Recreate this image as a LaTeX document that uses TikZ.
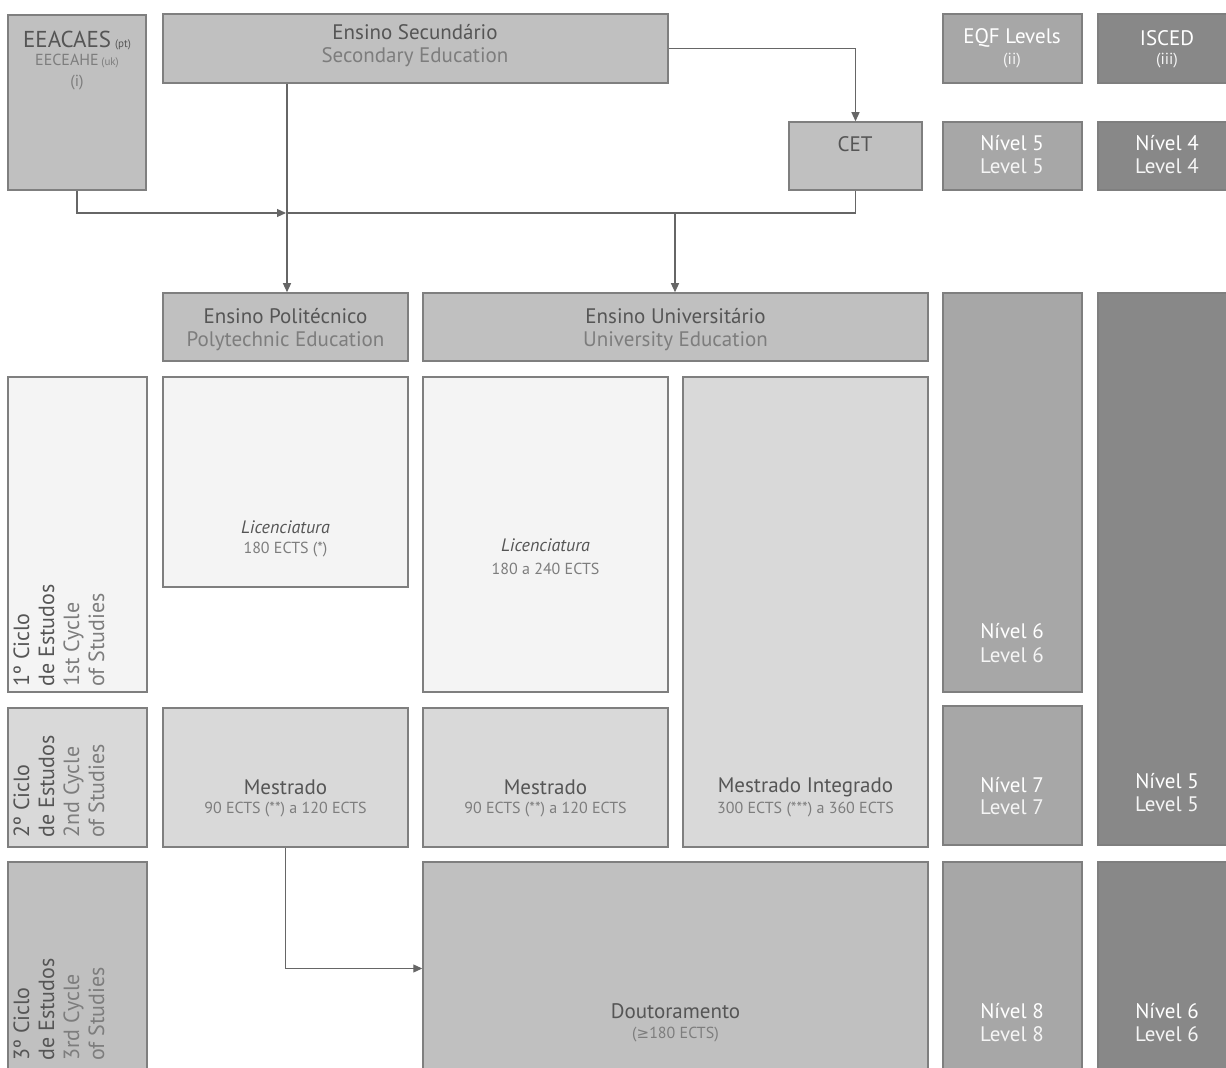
\documentclass[tikz,border=0pt]{standalone}
\usepackage{fontspec}
\setmainfont{PT Sans}
\newfontfamily\symfont{DejaVu Sans}
\usetikzlibrary{fit,arrows.meta}
\definecolor{bd}{HTML}{7F7F7F}
\definecolor{fa}{HTML}{C0C0C0}
\definecolor{fl}{HTML}{F4F4F4}
\definecolor{fm}{HTML}{D9D9D9}
\definecolor{fe}{HTML}{A7A7A7}
\definecolor{fi}{HTML}{888888}
\definecolor{tm}{HTML}{555555}
\definecolor{ts}{HTML}{7D7D7D}
\definecolor{ln}{HTML}{666666}
\tikzset{
  bx/.style={draw=bd, line width=0.75pt, inner sep=0pt},
  main/.style={font=\fontsize{10.5}{13}\selectfont, text=tm, inner sep=0pt},
  sub/.style={font=\fontsize{10.5}{13}\selectfont, text=ts, inner sep=0pt},
  small/.style={font=\fontsize{8}{10}\selectfont, text=ts, inner sep=0pt},
  wmain/.style={font=\fontsize{10.5}{13}\selectfont, text=white, inner sep=0pt},
  wsub/.style={font=\fontsize{10.5}{13}\selectfont, text=white!92!gray, inner sep=0pt},
  conn/.style={draw=ln, line width=0.6pt},
  arr/.style={conn, -{Triangle[length=4.5pt,width=4pt]}},
  cyc/.style={rotate=90, anchor=north west, align=left, inner sep=0pt,
    font=\fontsize{11}{12.5}\selectfont, text=tm}
}
\begin{document}
\begin{tikzpicture}[x=0.5pt,y=-0.5pt]
\useasboundingbox (0,0) rectangle (1226,1068);
\clip (0,0) rectangle (1226,1068);
% boxes
\node[bx, fill=fa, fit={(8,15)(146,190)}] (eea) {};
\node[bx, fill=fa, fit={(163,14)(668,83)}] (sec) {};
\node[bx, fill=fa, fit={(789,122)(922,190)}] (cet) {};
\node[bx, fill=fe, fit={(943,14)(1082,83)}] (eqfh) {};
\node[bx, fill=fi, fit={(1098,14)(1232,83)}] (isch) {};
\node[bx, fill=fe, fit={(943,122)(1082,190)}] (eqf5) {};
\node[bx, fill=fi, fit={(1098,122)(1232,190)}] (isc4) {};
\node[bx, fill=fa, fit={(163,293)(408,361)}] (poly) {};
\node[bx, fill=fa, fit={(423,293)(928,361)}] (univ) {};
\node[bx, fill=fe, fit={(943,293)(1082,692)}] (eqf6) {};
\node[bx, fill=fi, fit={(1098,293)(1232,845)}] (isc5) {};
\node[bx, fill=fl, fit={(8,377)(147,692)}] (c1) {};
\node[bx, fill=fl, fit={(163,377)(408,587)}] (lp) {};
\node[bx, fill=fl, fit={(423,377)(668,692)}] (lu) {};
\node[bx, fill=fm, fit={(683,377)(928,847)}] (mi) {};
\node[bx, fill=fm, fit={(8,708)(147,847)}] (c2) {};
\node[bx, fill=fm, fit={(163,708)(408,847)}] (mp) {};
\node[bx, fill=fm, fit={(423,708)(668,847)}] (mu) {};
\node[bx, fill=fe, fit={(943,706)(1082,845)}] (eqf7) {};
\node[bx, fill=fa, fit={(8,862)(147,1075)}] (c3) {};
\node[bx, fill=fa, fit={(423,862)(928,1075)}] (dout) {};
\node[bx, fill=fe, fit={(943,862)(1082,1075)}] (eqf8) {};
\node[bx, fill=fi, fit={(1098,862)(1232,1075)}] (isc6) {};
% connectors
\coordinate (j1) at (287,213);
\coordinate (j2) at (675,213);
\draw[arr] (sec.east) -| (cet.north);
\draw[arr] (j1 |- sec.south) -- (j1 |- poly.north);
\draw[conn] (cet.south) |- (j1);
\draw[arr] (eea.south) |- ([xshift=-0.5pt]j1);
\draw[arr] (j2) -- (j2 |- univ.north);
\draw[arr] (mp.south) |- (dout.west);
% texts
\node[main, font=\fontsize{11.5}{14}\selectfont] (t1) at (77,41) {EEACAES\,{\fontsize{5.5}{6}\selectfont(pt)}};
\node[small] (t2) at (77,61) {EECEAHE\,{\fontsize{5.5}{6}\selectfont(uk)}};
\node[small] (t3) at (77,83) {(i)};
\node[main] (t4) at (415,32) {Ensino Secundário};
\node[sub] (t5) at (415,57) {Secondary Education};
\node[main] (t6) at (855,144) {CET};
\node[wmain] (t7) at (1012,38) {EQF Levels};
\node[wsub, font=\fontsize{8}{10}\selectfont] (t8) at (1012,61) {(ii)};
\node[wmain] (t9) at (1167,38) {ISCED};
\node[wsub, font=\fontsize{8}{10}\selectfont] (t10) at (1167,61) {(iii)};
\node[wmain] (t11) at (1012,143) {Nível 5};
\node[wsub] (t12) at (1012,166) {Level 5};
\node[wmain] (t13) at (1167,143) {Nível 4};
\node[wsub] (t14) at (1167,166) {Level 4};
\node[main] (t15) at (285.5,316) {Ensino Politécnico};
\node[sub] (t16) at (285.5,341) {Polytechnic Education};
\node[main] (t17) at (675.5,316) {Ensino Universitário};
\node[sub] (t18) at (675.5,341) {University Education};
\node[main, font=\fontsize{9}{11}\itshape] (t19) at (285.5,527) {Licenciatura};
\node[small] (t20) at (285.5,550) {180 ECTS (*)};
\node[main, font=\fontsize{9}{11}\itshape] (t21) at (545.5,545) {Licenciatura};
\node[small] (t22) at (545.5,569) {180 a 240 ECTS};
\node[wmain] (t23) at (1012,631) {Nível 6};
\node[wsub] (t24) at (1012,655) {Level 6};
\node[main] (t25) at (285.5,787) {Mestrado};
\node[small] (t26) at (285.5,810) {90 ECTS (**) a 120 ECTS};
\node[main] (t27) at (545.5,787) {Mestrado};
\node[small] (t28) at (545.5,810) {90 ECTS (**) a 120 ECTS};
\node[main] (t29) at (805.5,787) {Mestrado Integrado};
\node[small] (t30) at (805.5,810) {300 ECTS (***) a 360 ECTS};
\node[wmain] (t31) at (1012,785) {Nível 7};
\node[wsub] (t32) at (1012,807) {Level 7};
\node[wmain] (t33) at (1167,781) {Nível 5};
\node[wsub] (t34) at (1167,804) {Level 5};
\node[main] (t35) at (675.5,1011) {Doutoramento};
\node[small] (t36) at (675.5,1035) {({\symfont\fontsize{7.5}{9}\selectfont ≥}180 ECTS)};
\node[wmain] (t37) at (1012,1011) {Nível 8};
\node[wsub] (t38) at (1012,1034) {Level 8};
\node[wmain] (t39) at (1167,1011) {Nível 6};
\node[wsub] (t40) at (1167,1034) {Level 6};
% cycles
\node[cyc] (cy1) at (13,687) {1º Ciclo\\de Estudos\\\textcolor{ts}{1st Cycle}\\\textcolor{ts}{of Studies}};
\node[cyc] (cy2) at (13,838) {2º Ciclo\\de Estudos\\\textcolor{ts}{2nd Cycle}\\\textcolor{ts}{of Studies}};
\node[cyc] (cy3) at (13,1061) {3º Ciclo\\de Estudos\\\textcolor{ts}{3rd Cycle}\\\textcolor{ts}{of Studies}};
\end{tikzpicture}
\end{document}
